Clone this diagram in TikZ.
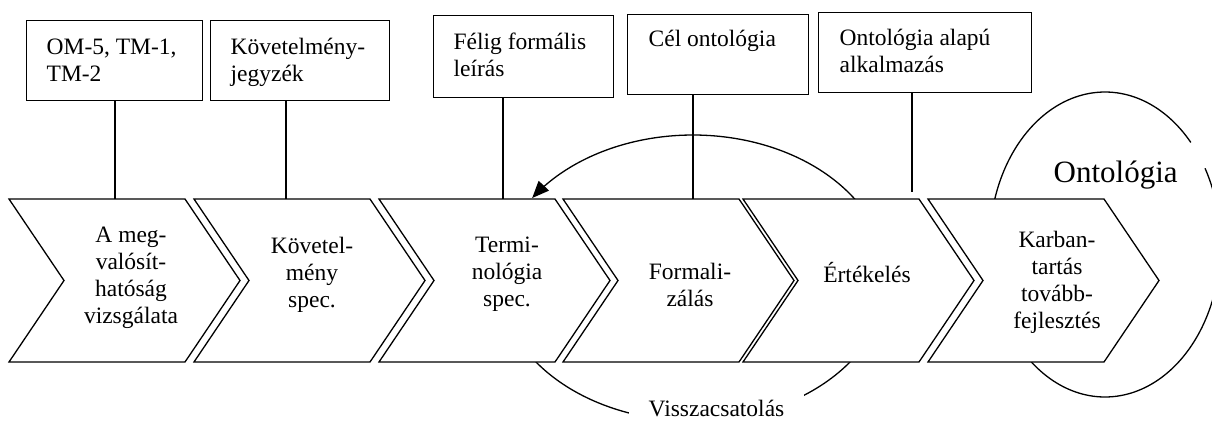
\documentclass[tikz,border=0pt]{standalone}
\usepackage{fontspec}
\setmainfont{Liberation Serif}
\usetikzlibrary{arrows.meta,calc}
\begin{document}
\begin{tikzpicture}[x=1pt,y=-1pt,
  line width=1.3pt,
  every node/.style={inner sep=0pt},
  txt/.style={font=\fontsize{23.5}{27}\selectfont},
  docbox/.style={draw, fill=white, anchor=north west},
  boxtext/.style={txt, anchor=north west, align=left},
  steptext/.style={txt, align=center},
  chev/.style={draw, fill=white, line join=miter},
  link/.style={line width=1.3pt}
]
\useasboundingbox (0,0) rectangle (1212,421);

% feedback loop around the formalisation / evaluation steps
\draw[-{Triangle[length=17pt,width=14pt]}]
  plot[domain=-150:146, samples=200] ({693+194*cos(\x)},{278-143*sin(\x)});

% ontology ellipse around the last step
\draw plot[domain=-30:318, samples=200] ({1105+115.5*cos(\x)},{244.5+152.5*sin(\x)});

% process chevrons
\foreach \L/\n in {9/1,194/2,379/3,563/4,743/5,928/6}{
  \draw[chev] (\L,199) -- ++(176,0) -- ++(55,81.5) -- ++(-55,81.5)
    -- ++(-176,0) -- ++(55,-81.5) -- cycle;
}

% step labels
\node[steptext] (s1) at (131,277.5) {A meg-\\valósít-\\hatóság\\vizsgálata};
\node[steptext] (s2) at (312,275) {Követel-\\mény\\spec.};
\node[steptext] (s3) at (507,274.5) {Termi-\\nológia\\spec.};
\node[steptext] (s4) at (690,284.5) {Formali-\\zálás};
\node[steptext] (s5) at (867,273) {Értékelés};
\node[steptext] (s6) at (1057,282) {Karban-\\tartás\\tovább-\\fejlesztés};

% deliverable boxes
\node[docbox, minimum width=176pt, minimum height=80pt] (b1) at (26,20) {};
\node[docbox, minimum width=179pt, minimum height=80pt] (b2) at (210,20) {};
\node[docbox, minimum width=180pt, minimum height=82pt] (b3) at (433,15) {};
\node[docbox, minimum width=181pt, minimum height=80pt] (b4) at (627,14) {};
\node[docbox, minimum width=213pt, minimum height=80pt] (b5) at (818,12) {};

\node[boxtext] (t1) at ($(b1.north west)+(20,15)$) {\strut OM-5, TM-1,\\TM-2};
\node[boxtext] (t2) at ($(b2.north west)+(20,15)$) {\strut Követelmény-\\jegyzék};
\node[boxtext] (t3) at ($(b3.north west)+(20,15)$) {\strut Félig formális\\leírás};
\node[boxtext] (t4) at ($(b4.north west)+(21,13)$) {\strut Cél ontológia};
\node[boxtext] (t5) at ($(b5.north west)+(21,14)$) {\strut Ontológia alapú\\alkalmazás};

% attachment points on the chevrons
\coordinate (p1) at (115,199);
\coordinate (p2) at (286,199);
\coordinate (p3) at (503,199);
\coordinate (p4) at (693,199);
\coordinate (p5) at (912,192);

\foreach \i in {1,...,5}{
  \draw[link] (b\i.south -| p\i) -- (p\i);
}

% ellipse and loop labels
\node[anchor=base west, font=\fontsize{31}{36}\selectfont] (onto) at (1053,182) {Ontológia};
\node[txt, anchor=base, fill=white, inner xsep=20pt, inner ysep=12pt] (fb) at (716.5,416) {Visszacsatolás};
\end{tikzpicture}
\end{document}
